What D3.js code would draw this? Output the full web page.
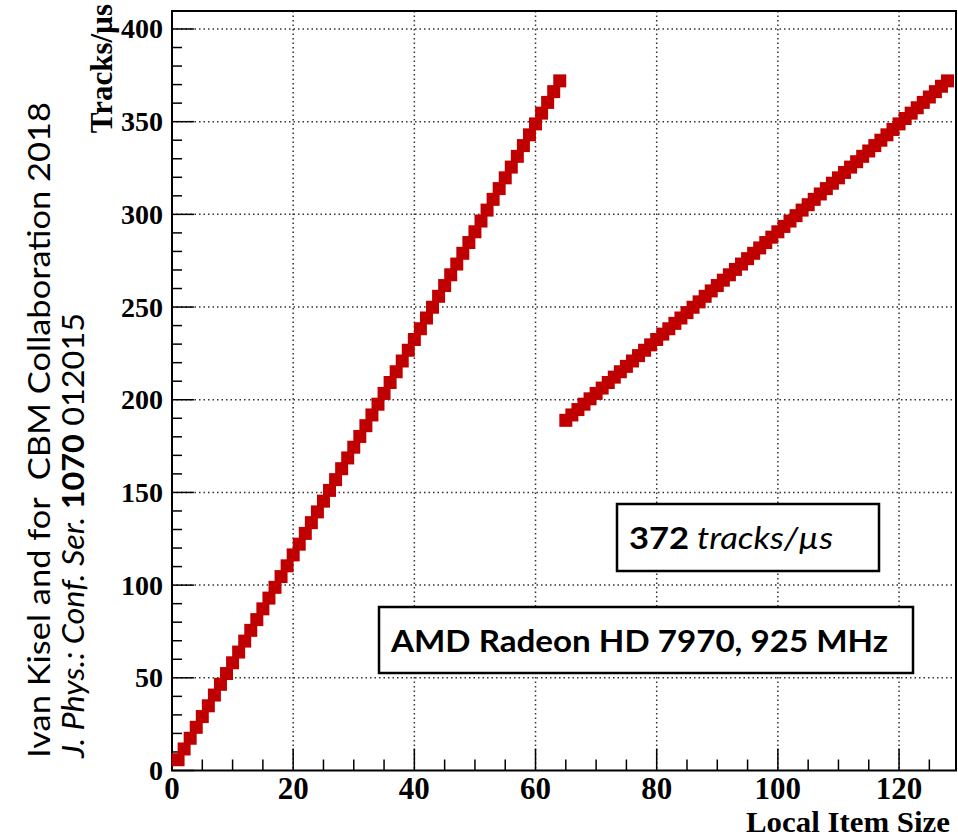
<!DOCTYPE html>
<html lang="en">
<head>
<meta charset="UTF-8" />
<title>Tracks per microsecond vs local item size</title>
<script src="https://d3js.org/d3.v7.min.js"></script>
<style>
  body { margin: 0; background: #fff; }
  svg { display: block; }
  .tick-label { font-family: "Liberation Serif", "Times New Roman", serif; font-weight: bold; fill: #000; }
  .note { font-family: Lato, "Open Sans", sans-serif; fill: #000; }
</style>
</head>
<body>
<div id="chart"></div>
<script>
// Local item size (work-group size) for each measurement
const itemSizes = [
  1, 2, 3, 4, 5, 6, 7, 8, 9, 10, 11, 12, 13, 14, 15, 16,
  17, 18, 19, 20, 21, 22, 23, 24, 25, 26, 27, 28, 29, 30, 31, 32,
  33, 34, 35, 36, 37, 38, 39, 40, 41, 42, 43, 44, 45, 46, 47, 48,
  49, 50, 51, 52, 53, 54, 55, 56, 57, 58, 59, 60, 61, 62, 63, 64,
  65, 66, 67, 68, 69, 70, 71, 72, 73, 74, 75, 76, 77, 78, 79, 80,
  81, 82, 83, 84, 85, 86, 87, 88, 89, 90, 91, 92, 93, 94, 95, 96,
  97, 98, 99, 100, 101, 102, 103, 104, 105, 106, 107, 108, 109, 110, 111, 112,
  113, 114, 115, 116, 117, 118, 119, 120, 121, 122, 123, 124, 125, 126, 127, 128
];
// Tracks/us
const tracksPerUs = [
  5.8, 11.6, 17.4, 23.3, 29.1, 34.9, 40.7, 46.5, 52.3, 58.1, 63.9, 69.8, 75.6, 81.4, 87.2, 93.0,
  98.8, 104.6, 110.4, 116.3, 122.1, 127.9, 133.7, 139.5, 145.3, 151.1, 156.9, 162.8, 168.6, 174.4, 180.2, 186.0,
  191.8, 197.6, 203.4, 209.3, 215.1, 220.9, 226.7, 232.5, 238.3, 244.1, 249.9, 255.8, 261.6, 267.4, 273.2, 279.0,
  284.8, 290.6, 296.4, 302.3, 308.1, 313.9, 319.7, 325.5, 331.3, 337.1, 342.9, 348.8, 354.6, 360.4, 366.2, 372.0,
  188.9, 191.8, 194.7, 197.6, 200.5, 203.4, 206.3, 209.3, 212.2, 215.1, 218.0, 220.9, 223.8, 226.7, 229.6, 232.5,
  235.4, 238.3, 241.2, 244.1, 247.0, 249.9, 252.8, 255.8, 258.7, 261.6, 264.5, 267.4, 270.3, 273.2, 276.1, 279.0,
  281.9, 284.8, 287.7, 290.6, 293.5, 296.4, 299.3, 302.3, 305.2, 308.1, 311.0, 313.9, 316.8, 319.7, 322.6, 325.5,
  328.4, 331.3, 334.2, 337.1, 340.0, 342.9, 345.8, 348.8, 351.7, 354.6, 357.5, 360.4, 363.3, 366.2, 369.1, 372.0
];
const xTicks = [0, 20, 40, 60, 80, 100, 120];
const yTicks = [0, 50, 100, 150, 200, 250, 300, 350, 400];

const width = 958, height = 839;
const plot = { left: 172, right: 956, top: 11, bottom: 770.5 };
const markerSize = 13;
const red = "#c00000";

const svg = d3.select("#chart").append("svg")
  .attr("width", width)
  .attr("height", height);

const x = d3.scaleLinear().domain([0, 129.4]).range([plot.left, plot.right]);
const y = d3.scaleLinear().domain([0, 409.7]).range([plot.bottom, plot.top]);

// dotted grid
const grid = svg.append("g").attr("stroke", "#333").attr("stroke-width", 1.5)
  .attr("stroke-dasharray", "1.5,3");
grid.selectAll("line.gx").data(xTicks.slice(1)).join("line")
  .attr("x1", d => x(d)).attr("x2", d => x(d))
  .attr("y1", plot.top).attr("y2", plot.bottom);
grid.selectAll("line.gy").data(yTicks.slice(1)).join("line")
  .attr("x1", plot.left).attr("x2", plot.right)
  .attr("y1", d => y(d)).attr("y2", d => y(d));

// ticks (inside the frame, ROOT style)
const xMinor = d3.range(0, 130, 5).filter(d => d % 20 !== 0);
const yMinor = d3.range(0, 410, 10).filter(d => d % 50 !== 0);
const ticks = svg.append("g").attr("stroke", "#000").attr("stroke-width", 1.5);
ticks.selectAll("line.xmaj").data(xTicks).join("line")
  .attr("x1", d => x(d)).attr("x2", d => x(d))
  .attr("y1", plot.bottom).attr("y2", plot.bottom - 22);
ticks.selectAll("line.xmin").data(xMinor).join("line")
  .attr("class", "xmin")
  .attr("x1", d => x(d)).attr("x2", d => x(d))
  .attr("y1", plot.bottom).attr("y2", plot.bottom - 11);
ticks.selectAll("line.ymaj").data(yTicks).join("line")
  .attr("class", "ymaj")
  .attr("x1", plot.left).attr("x2", plot.left + 22)
  .attr("y1", d => y(d)).attr("y2", d => y(d));
ticks.selectAll("line.ymin").data(yMinor).join("line")
  .attr("class", "ymin")
  .attr("x1", plot.left).attr("x2", plot.left + 10)
  .attr("y1", d => y(d)).attr("y2", d => y(d));

// frame
svg.append("rect")
  .attr("x", plot.left).attr("y", plot.top)
  .attr("width", plot.right - plot.left).attr("height", plot.bottom - plot.top)
  .attr("fill", "none").attr("stroke", "#000").attr("stroke-width", 2);

// markers
const points = itemSizes.map((s, i) => ({ size: s, rate: tracksPerUs[i] }));
svg.append("g").selectAll("rect").data(points).join("rect")
  .attr("x", d => x(d.size) - markerSize / 2)
  .attr("y", d => y(d.rate) - markerSize / 2)
  .attr("width", markerSize).attr("height", markerSize)
  .attr("fill", red);

// tick labels
svg.append("g").selectAll("text").data(xTicks).join("text")
  .attr("class", "tick-label")
  .attr("x", d => x(d)).attr("y", 799)
  .attr("text-anchor", "middle")
  .attr("font-size", 31)
  .text(d => d);
svg.append("g").selectAll("text").data(yTicks).join("text")
  .attr("class", "tick-label")
  .attr("x", 163).attr("y", d => y(d) + 9.5)
  .attr("text-anchor", "end")
  .attr("font-size", 28)
  .text(d => d);

// axis titles
svg.append("text").attr("class", "tick-label")
  .attr("x", 950).attr("y", 832)
  .attr("text-anchor", "end").attr("font-size", 29)
  .attr("textLength", 204).attr("lengthAdjust", "spacingAndGlyphs")
  .text("Local Item Size");
svg.append("text").attr("class", "tick-label")
  .attr("transform", "translate(112,4) rotate(-90)")
  .attr("text-anchor", "end").attr("font-size", 31)
  .text("Tracks/\u00b5s");

// annotation boxes
function box(x0, y0, x1, y1) {
  svg.append("rect")
    .attr("x", x0).attr("y", y0)
    .attr("width", x1 - x0).attr("height", y1 - y0)
    .attr("fill", "#fff").attr("stroke", "#000").attr("stroke-width", 2.5);
}
box(617, 504, 879, 571);
const t1 = svg.append("text").attr("class", "note")
  .attr("x", 629).attr("y", 549).attr("font-size", 31)
  .attr("textLength", 204).attr("lengthAdjust", "spacingAndGlyphs");
t1.append("tspan").attr("font-weight", "bold").text("372");
t1.append("tspan").attr("font-style", "italic").text(" tracks/\u00b5s");

box(379, 607, 913, 673);
svg.append("text").attr("class", "note")
  .attr("x", 391).attr("y", 652).attr("font-size", 31).attr("font-weight", "bold")
  .attr("textLength", 497).attr("lengthAdjust", "spacingAndGlyphs")
  .text("AMD Radeon HD 7970, 925 MHz");

// side attribution
svg.append("text").attr("class", "note")
  .attr("transform", "translate(50,758) rotate(-90)")
  .attr("font-size", 30)
  .attr("textLength", 656).attr("lengthAdjust", "spacingAndGlyphs")
  .text("Ivan Kisel and for  CBM Collaboration 2018")
  .style("white-space", "pre");
const ref = svg.append("text").attr("class", "note")
  .attr("transform", "translate(84,758) rotate(-90)")
  .attr("font-size", 30)
  .attr("textLength", 445).attr("lengthAdjust", "spacingAndGlyphs");
ref.append("tspan").attr("font-style", "italic").text("J. Phys.: Conf. Ser. ");
ref.append("tspan").attr("font-weight", "bold").text("1070");
ref.append("tspan").text(" 012015");
</script>
</body>
</html>
